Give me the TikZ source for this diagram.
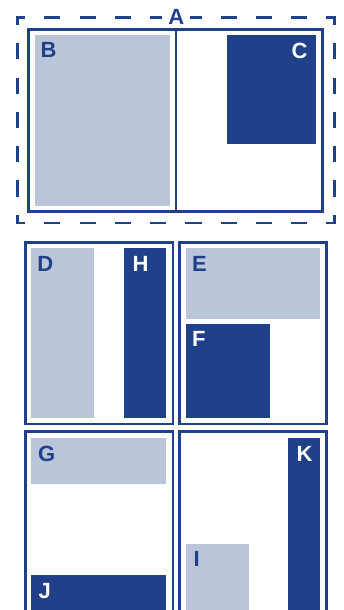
\documentclass[tikz,border=0pt]{standalone}
\usepackage{fontspec}
\setmainfont{Liberation Sans}
\usepackage{xcolor}
\definecolor{navyblue}{HTML}{21408A}
\definecolor{paleblue}{HTML}{BAC5D9}
\usetikzlibrary{positioning}

\begin{document}
\begin{tikzpicture}[x=1pt,y=-1pt,
  frame/.style={draw=navyblue,line width=2.6pt,inner sep=0pt,outer sep=0pt,anchor=north west},
  lightbox/.style={fill=paleblue,inner sep=0pt,outer sep=0pt,anchor=north west},
  darkbox/.style={fill=navyblue,inner sep=0pt,outer sep=0pt,anchor=north west},
  dashside/.style={draw=navyblue,line width=2.6pt,line cap=rect,dash phase=7pt},
  tag/.style={inner sep=0pt,font=\fontsize{22}{22}\selectfont\bfseries},
  lighttag/.style={tag,text=navyblue},
  darktag/.style={tag,text=white}]
  \clip (0,0) rectangle (344,610);
  % Dashed outline A
  \coordinate (anw) at (17.3,17.3);
  \coordinate (ane) at (334.7,17.3);
  \coordinate (asw) at (17.3,223);
  \coordinate (ase) at (334.7,223);
  \draw[dashside,dash pattern=on 13.6pt off 21.67pt] (anw) -- (ane);
  \draw[dashside,dash pattern=on 13.6pt off 21.67pt] (asw) -- (ase);
  \draw[dashside,dash pattern=on 13.6pt off 20.68pt] (anw) -- (asw);
  \draw[dashside,dash pattern=on 13.6pt off 20.68pt] (ane) -- (ase);
  \node[lighttag,fill=white,inner xsep=6pt,inner ysep=1pt] (A) at (176.2,17.2) {A};
  % Top frame with B and C
  \node[frame,minimum width=294.4pt,minimum height=182.4pt] (top) at (28.3,29.3) {};
  \draw[navyblue,line width=2.6pt] ([xshift=0.5pt]top.north) -- ([xshift=0.5pt]top.south);
  \node[lightbox,minimum width=135pt,minimum height=171pt] (B) at (35,35) {};
  \node[darkbox,minimum width=89pt,minimum height=109pt] (C) at (227,35) {};
  \node[lighttag,anchor=north west] (Btag) at ([shift={(5.3,7.6)}]B.north west) {B};
  \node[darktag,anchor=north east] (Ctag) at ([shift={(-8.3,7.6)}]C.north east) {C};
  % Middle left frame: D and H
  \node[frame,minimum width=147.3pt,minimum height=181.7pt] (midleft) at (25.7,242.3) {};
  \node[lightbox,minimum width=63pt,minimum height=169.4pt] (D) at (31,248.3) {};
  \node[darkbox,minimum width=42pt,minimum height=169.4pt] (H) at (124,248.3) {};
  \node[lighttag,anchor=north west] (Dtag) at ([shift={(6.1,7.6)}]D.north west) {D};
  \node[darktag,anchor=north west] (Htag) at ([shift={(8.3,7.6)}]H.north west) {H};
  % Middle right frame: E and F
  \node[frame,minimum width=147.4pt,minimum height=181.7pt] (midright) at (179.3,242.3) {};
  \node[lightbox,minimum width=134pt,minimum height=70.4pt] (E) at (186,248.3) {};
  \node[darkbox,minimum width=84pt,minimum height=93.7pt] (F) at (186,324) {};
  \node[lighttag,anchor=north west] (Etag) at ([shift={(5.8,7.6)}]E.north west) {E};
  \node[darktag,anchor=north west] (Ftag) at ([shift={(5.8,7.6)}]F.north west) {F};
  % Bottom left frame: G and J
  \node[frame,minimum width=147.3pt,minimum height=190pt] (botleft) at (25.7,431.7) {};
  \node[lightbox,minimum width=135pt,minimum height=45.4pt] (G) at (31,438.3) {};
  \node[darkbox,minimum width=135pt,minimum height=50pt] (J) at (31,575) {};
  \node[lighttag,anchor=north west] (Gtag) at ([shift={(7,7.6)}]G.north west) {G};
  \node[darktag,anchor=north west] (Jtag) at ([shift={(7.5,8.3)}]J.north west) {J};
  % Bottom right frame: I and K
  \node[frame,minimum width=147.4pt,minimum height=190pt] (botright) at (179.3,431.7) {};
  \node[darkbox,minimum width=32pt,minimum height=180pt] (K) at (288,438.3) {};
  \node[lightbox,minimum width=63pt,minimum height=80pt] (I) at (186,544) {};
  \node[darktag,anchor=north east] (Ktag) at ([shift={(-7.3,7.6)}]K.north east) {K};
  \node[lighttag,anchor=north west] (Itag) at ([shift={(7.3,7.6)}]I.north west) {I};
\end{tikzpicture}
\end{document}
